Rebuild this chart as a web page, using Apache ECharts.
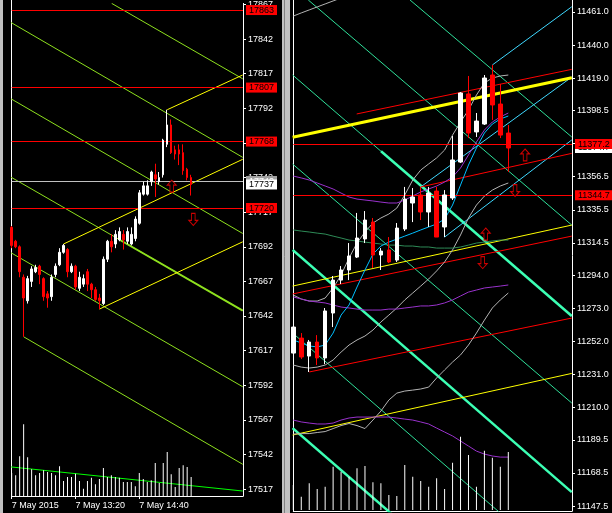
<!DOCTYPE html>
<html><head><meta charset="utf-8">
<script src="https://cdn.jsdelivr.net/npm/echarts@6/dist/echarts.min.js"></script>
<style>html,body{margin:0;padding:0;background:#000;overflow:hidden}#c{width:612px;height:513px}</style>
</head><body><div id="c"></div>
<script>
// ---------------- LEFT PANEL DATA ----------------
const leftTimeTickIdx = [0, 16, 32];
const leftTimeTickText = ['7 May 2015', '7 May 13:20', '7 May 14:40'];
const leftPriceTicks = [17517,17542,17567,17592,17617,17642,17667,17692,17717,17742,17767,17792,17817,17842,17867];
// [open, close, low, high]
const leftCandles = [
 [17706,17693,17691,17707],[17696,17692,17691,17697],[17692,17674,17670,17693],[17670,17655,17627,17672],
 [17653,17669,17651,17671],[17667,17676,17663,17678],[17674,17677,17673,17679],[17678,17672,17665,17679],
 [17669,17656,17653,17670],[17658,17655,17648,17660],[17656,17670,17653,17672],[17672,17678,17670,17680],
 [17679,17688,17678,17691],[17688,17693,17687,17694],[17690,17674,17670,17691],[17674,17678,17673,17680],
 [17678,17663,17661,17679],[17662,17670,17660,17674],[17665,17669,17663,17672],[17674,17665,17660,17676],
 [17665,17661,17655,17666],[17661,17654,17653,17663],[17655,17653,17647,17658],[17651,17683,17650,17685],
 [17683,17696,17681,17697],[17696,17692,17688,17701],[17694,17701,17691,17704],[17697,17703,17696,17706],
 [17701,17697,17690,17704],[17696,17703,17694,17706],[17694,17701,17693,17706],[17698,17712,17696,17714],
 [17709,17731,17708,17733],[17730,17736,17729,17739],[17730,17736,17729,17740],[17739,17746,17736,17747],
 [17744,17741,17728,17752],[17739,17742,17737,17746],[17744,17769,17742,17770],[17766,17780,17764,17791],
 [17780,17760,17759,17784],[17762,17759,17755,17765],[17762,17759,17751,17766],[17760,17747,17744,17766],
 [17748,17742,17740,17749],[17742,17737,17729,17744]
];
const leftVolume = [69,62,119,215,116,80,62,69,77,72,69,62,89,45,57,57,67,45,22,45,55,35,51,84,57,62,57,55,42,42,42,29,69,51,42,47,99,39,99,132,65,27,84,92,87,57];
// trend lines: [[barIndex, price], [barIndex, price]]
const lgLine1 = [[25.08,17867.8],[57.93,17813.3]];
const lgLine2 = [[-0.17,17854.0],[57.93,17756.6]];
const lgLine3 = [[-0.17,17798.9],[57.93,17701.6]];
const lgLine4 = [[-0.17,17742.3],[57.93,17645.9]];
const lgLine4Thick = [[27.17,17696.9],[57.93,17645.9]];
const lgLine5 = [[-0.17,17687.7],[57.93,17590.9]];
const lgLine6 = [[3,17627],[57.93,17534.9]];
const lyLine1 = [[39,17791],[57.93,17816.1]];
const lyLine2 = [[13,17694],[57.93,17755.2]];
const lyLine3 = [[22,17647],[57.93,17695.6]];
const lLimeLine = [[-0.17,17533.0],[57.93,17515.6]];
const leftArrowUp = [[40.13,17735.8]];
const leftArrowDown = [[45.54,17711.8]];
const leftRedLevels = [17863, 17807, 17768, 17720];
const leftBidGray = 17739.5;
const leftBidGrayText = '17740';
const leftLast = 17737;

// ---------------- RIGHT PANEL DATA ----------------
const rightPriceTicks = [11147.5,11168.5,11189.5,11210.0,11231.0,11252.0,11273.0,11294.0,11314.5,11335.5,11356.5,11377.5,11398.5,11419.0,11440.0,11461.0];
const rightCandles = [
 [11244.6,11261.1,11243.4,11262.4],[11254.1,11242.1,11240.8,11257.3],[11242.7,11251.6,11232.6,11252.9],[11251.6,11241.5,11237.0,11256.0],
 [11241.5,11271.3,11237.6,11273.2],[11270.0,11290.9,11261.1,11293.5],[11290.9,11297.3,11288.4,11299.8],[11297.3,11306.2,11290.9,11314.4],
 [11305.5,11317.6,11304.9,11333.5],[11317.0,11329.0,11314.4,11334.7],[11327.7,11306.8,11298.6,11330.3],[11306.8,11309.3,11297.3,11311.2],
 [11310.0,11302.4,11301.7,11318.2],[11303.6,11323.9,11302.4,11327.1],[11323.3,11342.3,11322.0,11350.0],[11339.8,11343.6,11327.7,11349.3],
 [11344.9,11334.1,11329.0,11350.0],[11334.1,11346.1,11324.6,11350.0],[11347.4,11318.2,11318.2,11350.0],[11324.6,11344.9,11318.2,11348.0],
 [11343.0,11367.1,11341.7,11382.3],[11365.8,11409.6,11365.2,11410.2],[11409.0,11384.2,11381.0,11420.4],[11384.9,11391.8,11381.7,11396.9],
 [11389.9,11419.1,11389.3,11421.0],[11421.0,11402.0,11392.5,11427.4],[11402.6,11382.9,11381.0,11415.3],[11384.2,11374.7,11359.5,11389.3]
];
const rightVolume = [75,40,80,63,70,130,115,100,125,132,83,80,45,42,135,100,87,70,95,63,142,220,165,70,178,157,130,174];
const maBlue = [11252.9,11251.0,11249.1,11248.5,11249.7,11257.3,11268.7,11275.1,11286.5,11297.3,11307.4,11312.5,11315.0,11316.9,11318.8,11320.7,11322.7,11324.6,11326.5,11329.6,11338.5,11351.2,11363.9,11374.7,11384.2,11389.9,11393.1,11395.0];
const maPurpleUp = [11356.9,11355.7,11354.4,11352.5,11350.6,11348.7,11346.1,11343.6,11342.3,11341.7,11341.1,11340.4,11339.8,11339.8,11341.7,11344.2,11346.8,11348.7,11350.6,11353.1,11356.3,11362.0,11370.3,11378.5,11386.1,11391.2,11394.4,11396.9];
const maPurpleMid = [11280.2,11278.9,11277.6,11277.0,11276.4,11275.1,11273.8,11273.2,11272.5,11271.9,11271.9,11271.9,11272.5,11272.5,11273.2,11273.8,11274.5,11274.5,11275.1,11276.4,11278.3,11280.8,11283.3,11284.6,11285.9,11286.5,11287.1,11287.8];
const maPurpleLow = [11202.1,11200.9,11200.2,11199.6,11199.6,11200.2,11202.1,11203.4,11204.0,11204.0,11204.0,11204.0,11204.0,11203.4,11202.7,11202.1,11200.9,11199.6,11197.0,11194.5,11192.0,11188.8,11185.6,11182.4,11180.5,11179.3,11178.6,11178.6];
const maGreen = [11322.7,11322.0,11321.4,11320.7,11320.1,11318.8,11317.6,11316.3,11315.7,11315.0,11314.4,11313.8,11313.1,11313.1,11312.5,11312.5,11311.9,11311.9,11311.2,11311.2,11311.2,11311.9,11313.1,11314.4,11315.0,11315.7,11316.3,11316.3];
const bbUpper = [11281.4,11278.9,11277.6,11277.6,11279.5,11285.9,11294.1,11304.9,11314.4,11321.4,11327.1,11330.3,11332.8,11336.6,11344.9,11354.4,11360.7,11364.6,11368.4,11373.4,11382.9,11391.2,11398.8,11408.3,11416.0,11419.1,11420.4,11421.0];
const bbLower = [11237.0,11235.7,11235.1,11235.7,11237.0,11240.2,11245.2,11249.7,11252.9,11255.4,11259.2,11264.3,11268.7,11273.2,11278.3,11282.7,11287.1,11291.6,11296.7,11302.4,11310.0,11319.5,11330.3,11338.5,11344.2,11348.0,11350.6,11352.5];
const bbLongLower = [11193.2,11193.5,11193.5,11194.2,11194.8,11196.7,11198.6,11199.9,11198.6,11196.7,11202.1,11207.8,11214.8,11219.2,11220.5,11221.1,11221.8,11223.0,11228.8,11233.9,11238.9,11243.4,11249.7,11257.3,11265.5,11273.2,11278.3,11282.7];
const bbLongUpper = [11458.4,11460.4,11462.3,11464.2,11466.1,11468.0,11469.9];
const rmLine1 = [[14.66,11468.6],[34.97,11381.7]];
const rmLine2 = [[1.88,11468.6],[34.97,11325.8]];
const rmLine3 = [[-0.08,11364.5],[34.97,11212.9]];
const rmLine4 = [[-0.08,11257.3],[34.97,11103.8]];
const rtLine1 = [[-0.08,11421.0],[34.97,11268.1]];
const rtLine1Thick = [[11.02,11372.6],[34.97,11268.1]];
const rtLine2 = [[-0.08,11310.0],[34.97,11156.4]];
const rtLine3 = [[-0.08,11197.0],[34.97,11043.5]];
const rcLine1 = [[25,11427.4],[34.97,11464.3]];
const rcLine2 = [[16,11350.0],[34.97,11419.7]];
const rcLine3 = [[19,11318.2],[34.97,11379.8]];
const rrLine1 = [[7.96,11396.3],[34.97,11424.6]];
const rrLine2 = [[16,11350.0],[34.97,11371.3]];
const rrLine3 = [[-0.08,11282.1],[34.97,11318.8]];
const rrLine4 = [[2,11232.6],[34.97,11266.8]];
const ryLineThick = [[-0.08,11381.5],[34.97,11419.3]];
const ryLine2 = [[-0.08,11287.1],[34.97,11325.8]];
const ryLine3 = [[-0.08,11192.6],[34.97,11231.7]];
const rightArrowUp = [[29.11,11370.3],[24.17,11320.1]];
const rightArrowDown = [[27.85,11347.7],[23.79,11302.0]];
const rightRedLevels = [11377.2, 11344.7];
const rightLast = 11374.7;

// ---------------- BUILD ----------------
const LN = 59, RN = 36;
const FONT = 'Liberation Sans';
const leftCats = Array.from({length: LN}, (_, i) => String(i));
const rightCats = Array.from({length: RN}, (_, i) => String(i));
const UP = 'path://M5 0L10 5L7 5L7 12L3 12L3 5L0 5Z';
const DOWN = 'path://M3 0L7 0L7 7L10 7L5 12L0 7L3 7Z';

function priceAxis(grid, min, max, ticks, fmt) {
  return {type: 'value', gridIndex: grid, position: 'right', min, max,
    axisLine: {show: true, onZero: false, lineStyle: {color: '#fff', width: 1}},
    axisTick: {show: true, length: 3, lineStyle: {color: '#fff'}, customValues: ticks},
    axisLabel: {color: '#fff', fontFamily: FONT, fontSize: 9, margin: 5, customValues: ticks, formatter: fmt},
    splitLine: {show: false}};
}
function hiddenAxis(type, grid, extra) {
  return Object.assign({type, gridIndex: grid, show: false, splitLine: {show: false}}, extra);
}
function tline(data, xi, yi, color, width, z) {
  return {type: 'line', xAxisIndex: xi, yAxisIndex: yi, data, showSymbol: false, symbol: 'none',
    lineStyle: {color, width}, silent: true, z: z || 2, animation: false};
}
function maline(data, xi, yi, color) {
  return {type: 'line', xAxisIndex: xi, yAxisIndex: yi, data, showSymbol: false, symbol: 'none',
    lineStyle: {color, width: 1}, silent: true, z: 3, animation: false};
}
function boxLabel(text, bg, fg) {
  return {show: true, position: 'end', distance: 3, formatter: text, color: fg, backgroundColor: bg,
    padding: [1, 3, 0, 3], fontSize: 9, fontFamily: FONT, lineHeight: 9};
}

const LG = '#8ee01e', YEL = '#ffff00', MINT = '#2fe09a', MINTB = '#3cffb4', CYAN = '#3fd8ff';

const series = [];
// left trend lines
[lgLine1, lgLine2, lgLine3, lgLine4, lgLine5, lgLine6].forEach(d => series.push(tline(d, 1, 0, LG, 1)));
series.push(tline(lgLine4Thick, 1, 0, LG, 2));
[lyLine1, lyLine2, lyLine3].forEach(d => series.push(tline(d, 1, 0, YEL, 1)));
series.push(tline(lLimeLine, 1, 0, '#00ff00', 1));
// left levels
const lm = tline([], 1, 0, 'transparent', 0);
lm.markLine = {silent: true, symbol: ['none', 'none'], animation: false,
  data: leftRedLevels.map(v => ({yAxis: v, lineStyle: {color: '#ff0000', width: 1, type: 'solid'}, label: boxLabel(String(v), '#ff0000', '#000')}))
    .concat([{yAxis: leftBidGray, lineStyle: {color: '#c0c0c0', width: 1, type: 'solid'}, label: boxLabel(leftBidGrayText, '#a0a0a0', '#fff')},
             {yAxis: leftLast, lineStyle: {color: 'rgba(0,0,0,0)', width: 0}, label: boxLabel(String(leftLast), '#ffffff', '#000')}])};
lm.z = 6;
series.push(lm);
// left candles + volume
series.push({type: 'candlestick', xAxisIndex: 0, yAxisIndex: 0, data: leftCandles, barWidth: 2, z: 5,
  itemStyle: {color: '#fff', color0: '#ff0000', borderColor: '#fff', borderColor0: '#ff0000', borderWidth: 1}, animation: false, silent: true});
series.push({type: 'bar', xAxisIndex: 2, yAxisIndex: 1, data: leftVolume, barWidth: 1, itemStyle: {color: '#fff'}, animation: false, silent: true, z: 4});
series.push({type: 'scatter', xAxisIndex: 1, yAxisIndex: 0, data: leftArrowUp, symbol: UP, symbolSize: [9, 12],
  itemStyle: {color: '#000', borderColor: '#ff0000', borderWidth: 1}, silent: true, z: 7, animation: false});
series.push({type: 'scatter', xAxisIndex: 1, yAxisIndex: 0, data: leftArrowDown, symbol: DOWN, symbolSize: [9, 12],
  itemStyle: {color: '#000', borderColor: '#ff0000', borderWidth: 1}, silent: true, z: 7, animation: false});

// right lines
[rmLine1, rmLine2, rmLine3, rmLine4].forEach(d => series.push(tline(d, 4, 2, MINT, 1)));
series.push(tline(rtLine1, 4, 2, MINT, 1));
[rtLine1Thick, rtLine2, rtLine3].forEach(d => series.push(tline(d, 4, 2, MINTB, 2.5)));
[rcLine1, rcLine2, rcLine3].forEach(d => series.push(tline(d, 4, 2, CYAN, 1)));
[rrLine1, rrLine2, rrLine3, rrLine4].forEach(d => series.push(tline(d, 4, 2, '#ff0000', 1)));
series.push(tline(ryLineThick, 4, 2, YEL, 3));
[ryLine2, ryLine3].forEach(d => series.push(tline(d, 4, 2, YEL, 1)));
// right MAs
series.push(maline(bbUpper, 3, 2, '#b4b4b4'));
series.push(maline(bbLower, 3, 2, '#b4b4b4'));
series.push(maline(bbLongLower, 3, 2, '#b4b4b4'));
series.push(maline(bbLongUpper, 3, 2, '#b4b4b4'));
series.push(maline(maGreen, 3, 2, '#2e8b57'));
series.push(maline(maPurpleUp, 3, 2, '#9932cc'));
series.push(maline(maPurpleMid, 3, 2, '#9932cc'));
series.push(maline(maPurpleLow, 3, 2, '#9932cc'));
series.push(maline(maBlue, 3, 2, '#00bfff'));
// right levels
const rm = tline([], 4, 2, 'transparent', 0);
rm.markLine = {silent: true, symbol: ['none', 'none'], animation: false,
  data: [{yAxis: rightLast, lineStyle: {color: 'rgba(0,0,0,0)', width: 0}, label: boxLabel(rightLast.toFixed(1), '#ffffff', '#000')}]
    .concat(rightRedLevels.map(v => ({yAxis: v, lineStyle: {color: '#ff0000', width: 1, type: 'solid'}, label: boxLabel(v.toFixed(1), '#ff0000', '#000')})))};
rm.z = 6;
series.push(rm);
series.push({type: 'candlestick', xAxisIndex: 3, yAxisIndex: 2, data: rightCandles, barWidth: 4, z: 5,
  itemStyle: {color: '#fff', color0: '#ff0000', borderColor: '#fff', borderColor0: '#ff0000', borderWidth: 1}, animation: false, silent: true});
series.push({type: 'bar', xAxisIndex: 5, yAxisIndex: 3, data: rightVolume, barWidth: 1, itemStyle: {color: '#fff'}, animation: false, silent: true, z: 4});
series.push({type: 'scatter', xAxisIndex: 4, yAxisIndex: 2, data: rightArrowUp, symbol: UP, symbolSize: [9, 12],
  itemStyle: {color: '#000', borderColor: '#ff0000', borderWidth: 1}, silent: true, z: 7, animation: false});
series.push({type: 'scatter', xAxisIndex: 4, yAxisIndex: 2, data: rightArrowDown, symbol: DOWN, symbolSize: [9, 12],
  itemStyle: {color: '#000', borderColor: '#ff0000', borderWidth: 1}, silent: true, z: 7, animation: false});

const option = {
  backgroundColor: '#000',
  animation: false,
  grid: [
    {left: 11.67, top: 0, width: 231.33, height: 496},
    {left: 11.67, top: 396, width: 231.33, height: 100},
    {left: 293.3, top: 0, width: 278.7, height: 511},
    {left: 293.3, top: 410, width: 278.7, height: 100}
  ],
  xAxis: [
    {type: 'category', gridIndex: 0, data: leftCats, boundaryGap: false,
      axisLine: {show: true, onZero: false, lineStyle: {color: '#fff'}},
      axisTick: {show: true, length: 3, interval: (i) => leftTimeTickIdx.includes(i), lineStyle: {color: '#fff'}},
      axisLabel: {show: true, interval: (i) => leftTimeTickIdx.includes(i), color: '#fff', fontSize: 9, fontFamily: FONT,
        align: 'left', margin: 5, formatter: (v, i) => leftTimeTickText[leftTimeTickIdx.indexOf(i)] || ''},
      splitLine: {show: false}},
    hiddenAxis('value', 0, {min: 0, max: LN - 1}),
    hiddenAxis('category', 1, {data: leftCats, boundaryGap: false}),
    {type: 'category', gridIndex: 2, data: rightCats, boundaryGap: false,
      axisLine: {show: true, onZero: false, lineStyle: {color: '#fff'}}, axisTick: {show: false}, axisLabel: {show: false}, splitLine: {show: false}},
    hiddenAxis('value', 2, {min: 0, max: RN - 1}),
    hiddenAxis('category', 3, {data: rightCats, boundaryGap: false})
  ],
  yAxis: [
    priceAxis(0, 17512.0, 17867.8, leftPriceTicks, v => String(Math.round(v))),
    hiddenAxis('value', 1, {min: 0, max: 300}),
    priceAxis(2, 11144.4, 11468.6, rightPriceTicks, v => Number(v).toFixed(1)),
    hiddenAxis('value', 3, {min: 0, max: 300})
  ],
  graphic: [
    {type: 'rect', shape: {x: 0, y: 0, width: 3, height: 513}, style: {fill: '#c0c0c0'}, silent: true},
    {type: 'rect', shape: {x: 282, y: 0, width: 8, height: 513}, style: {fill: '#c0c0c0'}, silent: true},
    {type: 'line', shape: {x1: 284.5, y1: 0, x2: 284.5, y2: 513}, style: {stroke: '#808080', lineWidth: 1}, silent: true},
    {type: 'line', shape: {x1: 11.5, y1: 0, x2: 11.5, y2: 496}, style: {stroke: '#fff', lineWidth: 1}, silent: true},
    {type: 'line', shape: {x1: 293.5, y1: 0, x2: 293.5, y2: 511}, style: {stroke: '#fff', lineWidth: 1}, silent: true}
  ],
  series
};
const chart = echarts.init(document.getElementById('c'));
chart.setOption(option);
</script>
</body></html>
